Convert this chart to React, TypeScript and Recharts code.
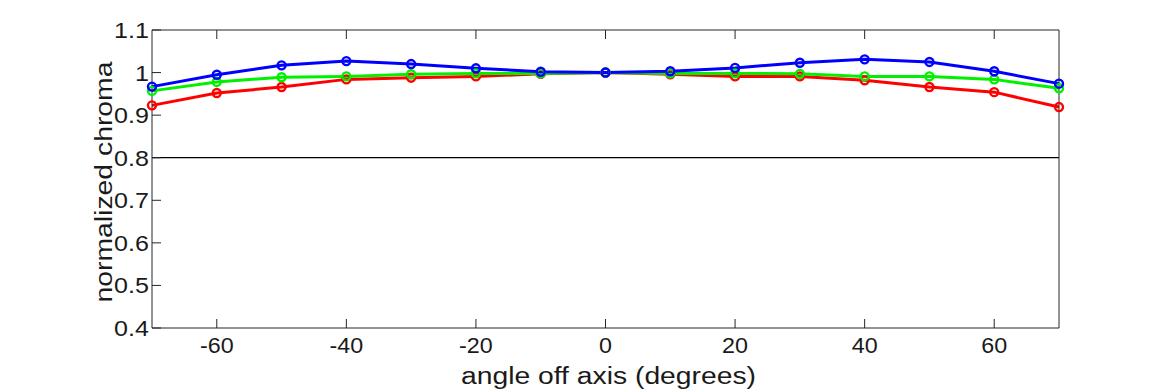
import React from 'react';
import { LineChart, Line, XAxis, YAxis, ReferenceLine, Label } from 'recharts';

const angles = [-70, -60, -50, -40, -30, -20, -10, 0, 10, 20, 30, 40, 50, 60, 70];
const redValues = [0.923, 0.952, 0.966, 0.984, 0.988, 0.991, 0.997, 1.0, 0.996, 0.991, 0.991, 0.982, 0.966, 0.954, 0.919];
const greenValues = [0.957, 0.978, 0.989, 0.991, 0.996, 0.998, 0.998, 1.0, 0.998, 0.998, 0.997, 0.991, 0.991, 0.984, 0.963];
const blueValues = [0.967, 0.995, 1.017, 1.027, 1.02, 1.01, 1.002, 1.0, 1.003, 1.011, 1.023, 1.031, 1.025, 1.003, 0.974];

const xTicks = [-60, -40, -20, 0, 20, 40, 60];
const yTicks = [0.4, 0.5, 0.6, 0.7, 0.8, 0.9, 1.0, 1.1];
const yTickLabels = ['0.4', '0.5', '0.6', '0.7', '0.8', '0.9', '1', '1.1'];
const xTitle = 'angle off axis (degrees)';
const yTitle = 'normalized chroma';

const data = angles.map((a, i) => ({
  angle: a,
  red: redValues[i],
  green: greenValues[i],
  blue: blueValues[i],
}));

const AX = '#262626';
const TXT = '#1a1a1a';
const FONT = '"Liberation Sans", Arial, Helvetica, sans-serif';
const TICK = 9;
const FS = 22;

const charW: Record<string, number> = {
  '0': 0.556, '1': 0.556, '2': 0.556, '3': 0.556, '4': 0.556, '5': 0.556,
  '6': 0.556, '7': 0.556, '8': 0.556, '9': 0.556, '.': 0.278, '-': 0.333,
};
const textW = (s: string, size: number, k: number) =>
  s.split('').reduce((acc, c) => acc + (charW[c] ?? 0.556), 0) * size * k;

const BottomTick = (props: any) => {
  const { x, y, payload } = props;
  const s = String(payload.value);
  return (
    <g>
      <line x1={x} y1={y} x2={x} y2={y - TICK} stroke={AX} strokeWidth={1} />
      <text x={x} y={y + 25} textAnchor="middle" fontSize={FS} fontFamily={FONT} fill={TXT}
        textLength={textW(s, FS, 1.06)} lengthAdjust="spacingAndGlyphs">{s}</text>
    </g>
  );
};

const TopTick = (props: any) => {
  const { x, y } = props;
  return <line x1={x} y1={y} x2={x} y2={y + TICK} stroke={AX} strokeWidth={1} />;
};

const LeftTick = (props: any) => {
  const { x, y, payload } = props;
  const idx = yTicks.findIndex((v) => Math.abs(v - payload.value) < 1e-9);
  const s = idx >= 0 ? yTickLabels[idx] : String(payload.value);
  return (
    <g>
      <line x1={x} y1={y} x2={x + TICK} y2={y} stroke={AX} strokeWidth={1} />
      <text x={x - 3} y={y + 8} textAnchor="end" fontSize={FS} fontFamily={FONT} fill={TXT}
        textLength={textW(s, FS, 1.14)} lengthAdjust="spacingAndGlyphs">{s}</text>
    </g>
  );
};

const RightTick = (props: any) => {
  const { x, y } = props;
  return <line x1={x} y1={y} x2={x - TICK} y2={y} stroke={AX} strokeWidth={1} />;
};

const XTitle = (props: any) => {
  const vb = props.viewBox || { x: 152, y: 328, width: 907, height: 62 };
  return (
    <text x={vb.x + vb.width / 2 + 3} y={vb.y + 56} textAnchor="middle" fontSize={23}
      fontFamily={FONT} fill={TXT} textLength={295} lengthAdjust="spacingAndGlyphs">{xTitle}</text>
  );
};

const YTitle = (props: any) => {
  const vb = props.viewBox || { x: 0, y: 30, width: 152, height: 298 };
  const cx = vb.x + vb.width - 40;
  const cy = vb.y + vb.height / 2 + 3;
  return (
    <text x={cx} y={cy} transform={`rotate(-90 ${cx} ${cy})`} textAnchor="middle" fontSize={23}
      fontFamily={FONT} fill={TXT} textLength={241} lengthAdjust="spacingAndGlyphs">{yTitle}</text>
  );
};

export default function App() {
  return (
    <div style={{ position: 'absolute', left: 0, top: 0, width: 1170, height: 390, background: '#fff' }}>
      <LineChart width={1170} height={390} data={data} margin={{ top: 0, right: 0, bottom: 0, left: 0 }}>
        <XAxis dataKey="angle" type="number" domain={[-70, 70]} ticks={xTicks} interval={0}
          height={62} tickSize={0} tickMargin={0} tickLine={false} tick={<BottomTick />}
          axisLine={{ stroke: AX, strokeWidth: 1 }}>
          <Label content={<XTitle />} />
        </XAxis>
        <XAxis xAxisId="t" orientation="top" dataKey="angle" type="number" domain={[-70, 70]}
          ticks={xTicks} interval={0} height={30} tickSize={0} tickMargin={0} tickLine={false}
          tick={<TopTick />} axisLine={{ stroke: AX, strokeWidth: 1 }} />
        <YAxis type="number" domain={[0.4, 1.1]} ticks={yTicks} interval={0} width={152}
          tickSize={0} tickMargin={0} tickLine={false} tick={<LeftTick />}
          axisLine={{ stroke: AX, strokeWidth: 1 }}>
          <Label content={<YTitle />} />
        </YAxis>
        <YAxis yAxisId="r" orientation="right" type="number" domain={[0.4, 1.1]} ticks={yTicks}
          interval={0} width={111} tickSize={0} tickMargin={0} tickLine={false}
          tick={<RightTick />} axisLine={{ stroke: AX, strokeWidth: 1 }} />
        <ReferenceLine y={0.8} stroke="#000" strokeWidth={1.2} />
        <Line dataKey="red" stroke="#ff0000" strokeWidth={3} isAnimationActive={false}
          dot={{ r: 4, strokeWidth: 2.4, fill: 'none', stroke: '#ff0000' }} activeDot={false} />
        <Line dataKey="green" stroke="#00f000" strokeWidth={3} isAnimationActive={false}
          dot={{ r: 4, strokeWidth: 2.4, fill: 'none', stroke: '#00f000' }} activeDot={false} />
        <Line dataKey="blue" stroke="#0000ff" strokeWidth={3} isAnimationActive={false}
          dot={{ r: 4, strokeWidth: 2.4, fill: 'none', stroke: '#0000ff' }} activeDot={false} />
      </LineChart>
    </div>
  );
}
